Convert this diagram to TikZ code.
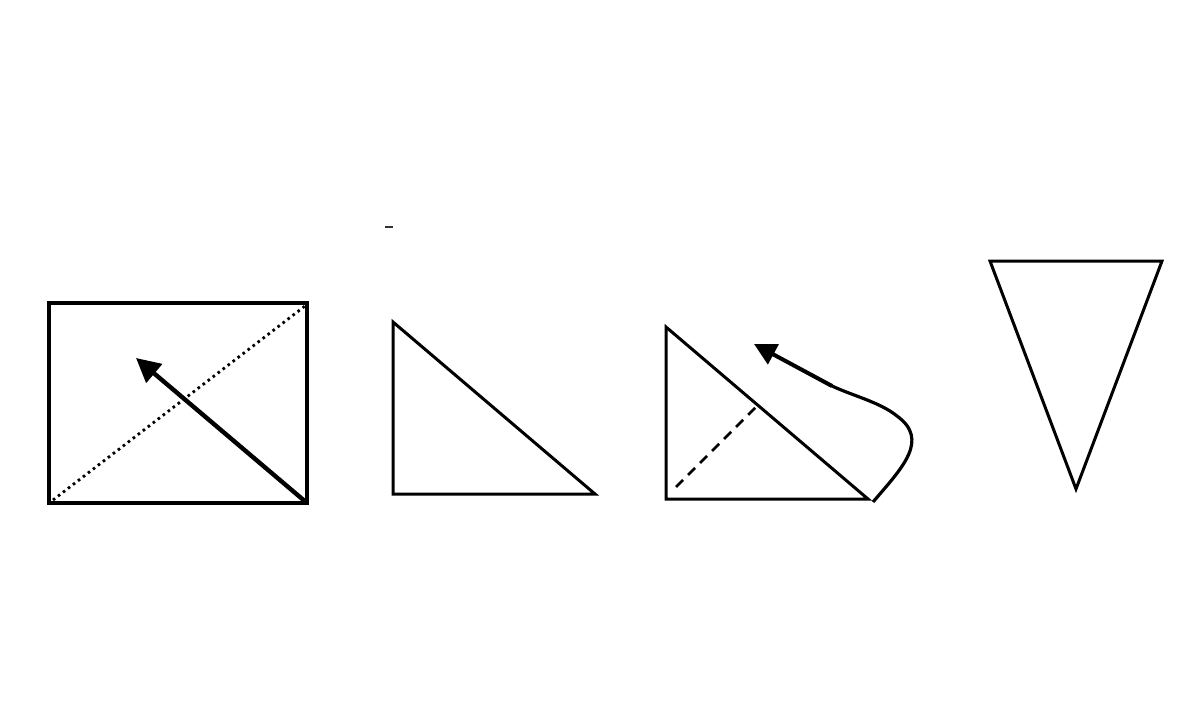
\documentclass[tikz,border=0pt]{standalone}
\usetikzlibrary{arrows.meta}
\begin{document}
\begin{tikzpicture}[x=1pt, y=-1pt, line join=miter,
    outline/.style={line width=3pt},
    bigarrow/.style={line width=4.4pt, -{Triangle[length=24pt, width=24pt]}},
    dotline/.style={line width=2.8pt, dash pattern=on 2.6pt off 3.7pt},
    dashline/.style={line width=2.8pt, dash pattern=on 10pt off 7pt}]
    \useasboundingbox (0,0) rectangle (1200,720);

    % rectangle with diagonal and arrow
    \coordinate (r1) at (49,303);
    \coordinate (r2) at (307,503);
    \coordinate (rtl) at (136,358);
    \draw[outline, line width=3.4pt] (r1) rectangle (r2);
    \draw[dotline] (53,500) -- (305,306);
    \draw[bigarrow] (r2) -- (rtl);

    % right triangle
    \coordinate (a1) at (393,322);
    \coordinate (a2) at (393,494);
    \coordinate (a3) at (595,494);
    \draw[outline] (a1) -- (a2) -- (a3) -- cycle;

    % right triangle, folded
    \coordinate (b1) at (666,327);
    \coordinate (b2) at (666,499);
    \coordinate (b3) at (868,499);
    \coordinate (bf) at (757,406);
    \draw[outline] (b1) -- (b2) -- (b3) -- cycle;
    \draw[dashline] (676,487) -- (bf);
    \coordinate (c0) at (873,502);
    \coordinate (ct) at (754,344);
    \draw[line width=3.2pt] (c0) .. controls (902,468) and (930,440) .. (897,416)
        .. controls (880,402) and (850,395) .. (830,385);
    \draw[bigarrow, line width=4pt, -{Triangle[length=22pt, width=22pt]}] (832,386) -- (ct);

    % inverted triangle
    \coordinate (d1) at (990,261);
    \coordinate (d2) at (1162,261);
    \coordinate (d3) at (1076,489);
    \draw[outline] (d1) -- (d2) -- (d3) -- cycle;

    % small mark
    \draw[line width=1.8pt, black!80] (385,227) -- (393,227);
\end{tikzpicture}
\end{document}
